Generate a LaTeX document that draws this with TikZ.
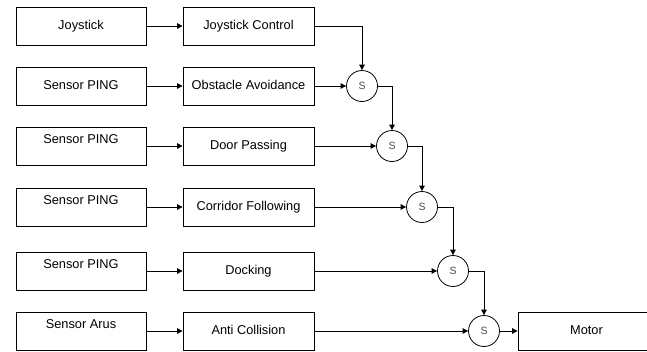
\documentclass[tikz,border=0pt]{standalone}
\usepackage{fontspec}
\setmainfont{Liberation Sans}
\usetikzlibrary{arrows.meta}
\begin{document}
\begin{tikzpicture}[x=1pt,y=-1pt,
  box/.style={draw, line width=0.8pt, minimum width=130pt, minimum height=38pt, inner sep=0pt,
    text height=9pt, text depth=3pt, font=\fontsize{12.8}{14}\selectfont},
  hi/.style={text depth=15pt},
  sum/.style={draw, circle, line width=0.8pt, minimum size=31pt, inner sep=0pt,
    font=\fontsize{10.5}{12}\selectfont, text=black!70},
  arr/.style={line width=0.8pt, -{Triangle[length=5.5pt,width=5.5pt]}}]
\useasboundingbox (0,0) rectangle (647,351);
% left column
\node[box] (l1) at (81,26) {Joystick};
\node[box] (l2) at (81,86) {Sensor PING};
\node[box,hi] (l3) at (81,146) {Sensor PING};
\node[box,hi] (l4) at (81,207) {Sensor PING};
\node[box,hi] (l5) at (81,271) {Sensor PING};
\node[box,hi] (l6) at (81,331) {Sensor Arus};
% middle column
\node[box,minimum width=131pt] (m1) at (248.5,26) {Joystick Control};
\node[box,minimum width=131pt] (m2) at (248.5,86) {Obstacle Avoidance};
\node[box,minimum width=131pt] (m3) at (248.5,146) {Door Passing};
\node[box,minimum width=131pt] (m4) at (248.5,207) {Corridor Following};
\node[box,minimum width=131pt] (m5) at (248.5,271) {Docking};
\node[box,minimum width=131pt] (m6) at (248.5,331) {Anti Collision};
% summing nodes
\node[sum] (s1) at (362,86) {S};
\node[sum] (s2) at (392,146) {S};
\node[sum] (s3) at (422,207) {S};
\node[sum] (s4) at (453,271) {S};
\node[sum] (s5) at (484,331) {S};
% motor
\node[box,minimum width=137pt] (mo) at (586.5,331) {Motor};
% connectors
\foreach \i in {1,...,6} {\draw[arr] (l\i) -- (m\i);}
\draw[arr] (m1.east) -| (s1.north);
\draw[arr] (m2) -- (s1);
\draw[arr] (s1.east) -| (s2.north);
\draw[arr] (m3) -- (s2);
\draw[arr] (s2.east) -| (s3.north);
\draw[arr] (m4) -- (s3);
\draw[arr] (s3.east) -| (s4.north);
\draw[arr] (m5) -- (s4);
\draw[arr] (s4.east) -| (s5.north);
\draw[arr] (m6) -- (s5);
\draw[arr] (s5) -- (mo);
\end{tikzpicture}
\end{document}
